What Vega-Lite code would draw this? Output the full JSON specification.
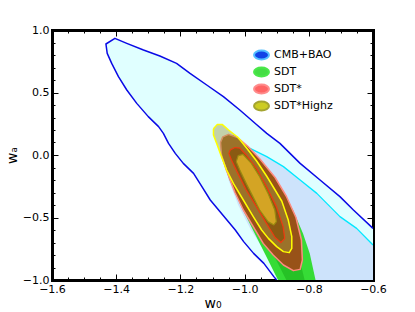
{
  "$schema": "https://vega.github.io/schema/vega-lite/v6.json",
  "width": 321,
  "height": 250,
  "autosize": {"type": "none"},
  "padding": {"left": 52, "top": 30, "right": 42, "bottom": 32},
  "background": "white",
  "config": {
    "view": {"stroke": null},
    "font": "DejaVu Sans",
    "axis": {"grid": false, "zindex": 1, "tickColor": "black", "tickWidth": 1, "labelColor": "black", "titleColor": "black", "labelFont": "DejaVu Sans", "titleFont": "DejaVu Sans", "titleFontWeight": "normal"},
    "legend": {
      "orient": "none", "legendX": 202, "legendY": 17.5,
      "symbolType": "M-1.15,0A1.15,0.7 0 1,1 1.15,0A1.15,0.7 0 1,1 -1.15,0Z",
      "symbolSize": 169, "symbolStrokeWidth": 2, "symbolOpacity": 1,
      "labelFontSize": 11, "labelFont": "DejaVu Sans", "labelColor": "black",
      "labelOffset": 5, "rowPadding": -2.5, "padding": 0
    }
  },
  "datasets": {
    "cmb2": [
      {"k":0,"w0":-0.900,"wa":-1.0},{"k":1,"w0":-0.909,"wa":-0.973},{"k":2,"w0":-0.940,"wa":-0.867},{"k":3,"w0":-0.972,"wa":-0.787},
      {"k":4,"w0":-1.003,"wa":-0.693},{"k":5,"w0":-1.029,"wa":-0.6},{"k":6,"w0":-1.055,"wa":-0.52},{"k":7,"w0":-1.081,"wa":-0.44},
      {"k":8,"w0":-1.107,"wa":-0.36},{"k":9,"w0":-1.133,"wa":-0.253},{"k":10,"w0":-1.159,"wa":-0.147},{"k":11,"w0":-1.191,"wa":-0.067},
      {"k":12,"w0":-1.216,"wa":0.013},{"k":13,"w0":-1.237,"wa":0.093},{"k":14,"w0":-1.253,"wa":0.173},{"k":15,"w0":-1.268,"wa":0.227},
      {"k":16,"w0":-1.300,"wa":0.307},{"k":17,"w0":-1.336,"wa":0.413},{"k":18,"w0":-1.367,"wa":0.52},{"k":19,"w0":-1.393,"wa":0.627},
      {"k":20,"w0":-1.414,"wa":0.733},{"k":21,"w0":-1.428,"wa":0.813},{"k":22,"w0":-1.432,"wa":0.888},{"k":23,"w0":-1.404,"wa":0.933},
      {"k":24,"w0":-1.367,"wa":0.893},{"k":25,"w0":-1.315,"wa":0.84},{"k":26,"w0":-1.264,"wa":0.792},{"k":27,"w0":-1.212,"wa":0.733},
      {"k":28,"w0":-1.170,"wa":0.653},{"k":29,"w0":-1.118,"wa":0.56},{"k":30,"w0":-1.066,"wa":0.467},{"k":31,"w0":-1.015,"wa":0.36},
      {"k":32,"w0":-0.963,"wa":0.244},{"k":33,"w0":-0.931,"wa":0.173},{"k":34,"w0":-0.890,"wa":0.093},{"k":35,"w0":-0.827,"wa":-0.067},
      {"k":36,"w0":-0.765,"wa":-0.2},{"k":37,"w0":-0.703,"wa":-0.333},{"k":38,"w0":-0.661,"wa":-0.44},{"k":39,"w0":-0.600,"wa":-0.587},
      {"k":40,"w0":-0.600,"wa":-1.0}
    ],
    "cmb1": [
      {"k":0,"w0":-1.060,"wa":-0.06},{"k":1,"w0":-1.030,"wa":0.02},{"k":2,"w0":-0.983,"wa":0.053},{"k":3,"w0":-0.931,"wa":-0.013},
      {"k":4,"w0":-0.879,"wa":-0.093},{"k":5,"w0":-0.827,"wa":-0.2},{"k":6,"w0":-0.775,"wa":-0.307},{"k":7,"w0":-0.744,"wa":-0.387},
      {"k":8,"w0":-0.703,"wa":-0.493},{"k":9,"w0":-0.651,"wa":-0.587},{"k":10,"w0":-0.600,"wa":-0.72},{"k":11,"w0":-0.600,"wa":-1.0},
      {"k":12,"w0":-0.870,"wa":-1.0},{"k":13,"w0":-0.930,"wa":-0.8},{"k":14,"w0":-0.980,"wa":-0.6},{"k":15,"w0":-1.020,"wa":-0.4},
      {"k":16,"w0":-1.050,"wa":-0.2}
    ],
    "sdt2": [
      {"k":0,"w0":-1.067,"wa":0.12},{"k":1,"w0":-1.036,"wa":0.16},{"k":2,"w0":-0.995,"wa":0.08},{"k":3,"w0":-0.943,"wa":-0.067},
      {"k":4,"w0":-0.891,"wa":-0.253},{"k":5,"w0":-0.849,"wa":-0.44},{"k":6,"w0":-0.818,"wa":-0.627},{"k":7,"w0":-0.797,"wa":-0.787},
      {"k":8,"w0":-0.779,"wa":-1.0},{"k":9,"w0":-0.896,"wa":-1.0},{"k":10,"w0":-0.932,"wa":-0.813},{"k":11,"w0":-0.974,"wa":-0.6},
      {"k":12,"w0":-1.015,"wa":-0.387},{"k":13,"w0":-1.047,"wa":-0.2},{"k":14,"w0":-1.069,"wa":-0.04}
    ],
    "sdt1": [
      {"k":0,"w0":-1.036,"wa":0.013},{"k":1,"w0":-0.974,"wa":-0.12},{"k":2,"w0":-0.912,"wa":-0.36},{"k":3,"w0":-0.860,"wa":-0.627},
      {"k":4,"w0":-0.828,"wa":-0.84},{"k":5,"w0":-0.813,"wa":-1.0},{"k":6,"w0":-0.870,"wa":-1.0},{"k":7,"w0":-0.912,"wa":-0.787},
      {"k":8,"w0":-0.963,"wa":-0.547},{"k":9,"w0":-1.005,"wa":-0.333},{"k":10,"w0":-1.036,"wa":-0.147}
    ],
    "red2": [
      {"k":0,"w0":-1.075,"wa":0.10},{"k":1,"w0":-1.068,"wa":0.145},{"k":2,"w0":-1.050,"wa":0.165},{"k":3,"w0":-1.022,"wa":0.14},
      {"k":4,"w0":-0.990,"wa":0.07},{"k":5,"w0":-0.953,"wa":-0.03},{"k":6,"w0":-0.905,"wa":-0.18},{"k":7,"w0":-0.870,"wa":-0.33},
      {"k":8,"w0":-0.840,"wa":-0.50},{"k":9,"w0":-0.823,"wa":-0.68},{"k":10,"w0":-0.820,"wa":-0.84},{"k":11,"w0":-0.827,"wa":-0.915},
      {"k":12,"w0":-0.848,"wa":-0.925},{"k":13,"w0":-0.879,"wa":-0.88},{"k":14,"w0":-0.911,"wa":-0.80},{"k":15,"w0":-0.942,"wa":-0.707},
      {"k":16,"w0":-0.973,"wa":-0.573},{"k":17,"w0":-1.004,"wa":-0.44},{"k":18,"w0":-1.030,"wa":-0.30},{"k":19,"w0":-1.057,"wa":-0.12},
      {"k":20,"w0":-1.072,"wa":0.0},{"k":21,"w0":-1.075,"wa":0.10}
    ],
    "hz2": [
      {"k":0,"w0":-1.097,"wa":0.21},{"k":1,"w0":-1.085,"wa":0.245},{"k":2,"w0":-1.070,"wa":0.245},{"k":3,"w0":-1.050,"wa":0.20},
      {"k":4,"w0":-1.020,"wa":0.14},{"k":5,"w0":-0.992,"wa":0.05},{"k":6,"w0":-0.962,"wa":-0.05},{"k":7,"w0":-0.931,"wa":-0.17},
      {"k":8,"w0":-0.905,"wa":-0.28},{"k":9,"w0":-0.884,"wa":-0.37},{"k":10,"w0":-0.864,"wa":-0.52},{"k":11,"w0":-0.853,"wa":-0.653},
      {"k":12,"w0":-0.853,"wa":-0.747},{"k":13,"w0":-0.861,"wa":-0.781},{"k":14,"w0":-0.879,"wa":-0.773},{"k":15,"w0":-0.900,"wa":-0.733},
      {"k":16,"w0":-0.926,"wa":-0.667},{"k":17,"w0":-0.947,"wa":-0.60},{"k":18,"w0":-0.973,"wa":-0.493},{"k":19,"w0":-1.004,"wa":-0.36},
      {"k":20,"w0":-1.035,"wa":-0.227},{"k":21,"w0":-1.056,"wa":-0.12},{"k":22,"w0":-1.072,"wa":-0.013},{"k":23,"w0":-1.087,"wa":0.093},
      {"k":24,"w0":-1.097,"wa":0.16},{"k":25,"w0":-1.097,"wa":0.21}
    ],
    "red1": [
      {"k":0,"w0":-1.045,"wa":0.04},{"k":1,"w0":-1.030,"wa":0.06},{"k":2,"w0":-1.015,"wa":0.055},{"k":3,"w0":-0.995,"wa":0.0},
      {"k":4,"w0":-0.963,"wa":-0.107},{"k":5,"w0":-0.932,"wa":-0.253},{"k":6,"w0":-0.901,"wa":-0.413},{"k":7,"w0":-0.880,"wa":-0.573},
      {"k":8,"w0":-0.875,"wa":-0.667},{"k":9,"w0":-0.887,"wa":-0.70},{"k":10,"w0":-0.905,"wa":-0.66},{"k":11,"w0":-0.932,"wa":-0.547},
      {"k":12,"w0":-0.963,"wa":-0.413},{"k":13,"w0":-0.995,"wa":-0.28},{"k":14,"w0":-1.021,"wa":-0.147},{"k":15,"w0":-1.041,"wa":-0.04},
      {"k":16,"w0":-1.049,"wa":0.013},{"k":17,"w0":-1.045,"wa":0.04}
    ],
    "hz1": [
      {"k":0,"w0":-1.026,"wa":-0.053},{"k":1,"w0":-1.020,"wa":-0.005},{"k":2,"w0":-1.005,"wa":0.005},{"k":3,"w0":-0.979,"wa":-0.067},
      {"k":4,"w0":-0.953,"wa":-0.173},{"k":5,"w0":-0.927,"wa":-0.307},{"k":6,"w0":-0.906,"wa":-0.44},{"k":7,"w0":-0.901,"wa":-0.533},
      {"k":8,"w0":-0.909,"wa":-0.56},{"k":9,"w0":-0.927,"wa":-0.533},{"k":10,"w0":-0.953,"wa":-0.44},{"k":11,"w0":-0.974,"wa":-0.333},
      {"k":12,"w0":-0.995,"wa":-0.227},{"k":13,"w0":-1.015,"wa":-0.12},{"k":14,"w0":-1.026,"wa":-0.053}
    ],
    "legend": [
      {"series":"CMB+BAO","w0":-1.0,"wa":0.0},{"series":"SDT","w0":-1.0,"wa":0.0},
      {"series":"SDT*","w0":-1.0,"wa":0.0},{"series":"SDT*Highz","w0":-1.0,"wa":0.0}
    ]
  },
  "resolve": {"axis": {"x": "independent", "y": "independent"}},
  "layer": [
    {
      "data": {"name": "cmb2"},
      "mark": {"type": "line", "fill": "#e0ffff", "strokeWidth": 0, "clip": true},
      "encoding": {
        "x": {"field": "w0", "type": "quantitative", "scale": {"domain": [-1.6, -0.6], "nice": false, "zero": false},
              "axis": {"orient": "bottom", "values": [-1.6, -1.4, -1.2, -1.0, -0.8, -0.6], "format": ".1f", "tickSize": -6, "labelPadding": 9, "labelFontSize": 11, "labelFlush": false, "labelOverlap": false, "domain": true, "domainWidth": 3, "domainColor": "black", "domainCap": "square", "title": "w₀", "titleFontSize": 14, "titleY": 23, "titleBaseline": "middle"}},
        "y": {"field": "wa", "type": "quantitative", "scale": {"domain": [-1.0, 1.0], "nice": false, "zero": false},
              "axis": {"orient": "left", "values": [-1.0, -0.5, 0.0, 0.5, 1.0], "format": ".1f", "tickSize": -6, "labelPadding": 9, "labelFontSize": 11, "labelFlush": false, "labelOverlap": false, "domain": true, "domainWidth": 3, "domainColor": "black", "domainCap": "square", "title": "wₐ", "titleFontSize": 14, "titleX": -40, "titleY": 125, "titleBaseline": "middle"}},
        "order": {"field": "k", "type": "quantitative"}
      }
    },
    {
      "data": {"name": "cmb2"},
      "transform": [{"filter": "datum.k < 40"}],
      "mark": {"type": "line", "stroke": "#0a0ae6", "strokeWidth": 1.5, "strokeJoin": "round", "clip": true},
      "encoding": {
        "x": {"field": "w0", "type": "quantitative", "scale": {"domain": [-1.6, -0.6], "nice": false, "zero": false},
              "axis": {"orient": "top", "values": [-1.6, -1.4, -1.2, -1.0, -0.8, -0.6], "tickSize": -6, "labels": false, "domain": true, "domainWidth": 3, "domainColor": "black", "domainCap": "square", "title": null}},
        "y": {"field": "wa", "type": "quantitative", "scale": {"domain": [-1.0, 1.0], "nice": false, "zero": false},
              "axis": {"orient": "right", "values": [-1.0, -0.5, 0.0, 0.5, 1.0], "tickSize": -6, "labels": false, "domain": true, "domainWidth": 3, "domainColor": "black", "domainCap": "square", "title": null}},
        "order": {"field": "k", "type": "quantitative"}
      }
    },
    {
      "data": {"name": "cmb1"},
      "mark": {"type": "line", "fill": "#cde3fb", "strokeWidth": 0, "clip": true},
      "encoding": {
        "x": {"field": "w0", "type": "quantitative", "scale": {"domain": [-1.6, -0.6], "nice": false, "zero": false},
              "axis": {"orient": "bottom", "values": [-1.6, -1.55, -1.5, -1.45, -1.4, -1.35, -1.3, -1.25, -1.2, -1.15, -1.1, -1.05, -1.0, -0.95, -0.9, -0.85, -0.8, -0.75, -0.7, -0.65, -0.6], "tickSize": -3, "labels": false, "domain": false, "title": null}},
        "y": {"field": "wa", "type": "quantitative", "scale": {"domain": [-1.0, 1.0], "nice": false, "zero": false},
              "axis": {"orient": "left", "values": [-1.0, -0.9, -0.8, -0.7, -0.6, -0.5, -0.4, -0.3, -0.2, -0.1, 0.0, 0.1, 0.2, 0.3, 0.4, 0.5, 0.6, 0.7, 0.8, 0.9, 1.0], "tickSize": -3, "labels": false, "domain": false, "title": null}},
        "order": {"field": "k", "type": "quantitative"}
      }
    },
    {
      "data": {"name": "cmb1"},
      "transform": [{"filter": "datum.k >= 1 && datum.k <= 10"}],
      "mark": {"type": "line", "stroke": "#00e8ff", "strokeWidth": 1.3, "strokeJoin": "round", "clip": true},
      "encoding": {
        "x": {"field": "w0", "type": "quantitative", "scale": {"domain": [-1.6, -0.6], "nice": false, "zero": false},
              "axis": {"orient": "top", "values": [-1.6, -1.55, -1.5, -1.45, -1.4, -1.35, -1.3, -1.25, -1.2, -1.15, -1.1, -1.05, -1.0, -0.95, -0.9, -0.85, -0.8, -0.75, -0.7, -0.65, -0.6], "tickSize": -3, "labels": false, "domain": false, "title": null}},
        "y": {"field": "wa", "type": "quantitative", "scale": {"domain": [-1.0, 1.0], "nice": false, "zero": false},
              "axis": {"orient": "right", "values": [-1.0, -0.9, -0.8, -0.7, -0.6, -0.5, -0.4, -0.3, -0.2, -0.1, 0.0, 0.1, 0.2, 0.3, 0.4, 0.5, 0.6, 0.7, 0.8, 0.9, 1.0], "tickSize": -3, "labels": false, "domain": false, "title": null}},
        "order": {"field": "k", "type": "quantitative"}
      }
    },
    {
      "data": {"name": "sdt2"},
      "mark": {"type": "line", "fill": "#36dc36", "strokeWidth": 0, "clip": true},
      "encoding": {
        "x": {"field": "w0", "type": "quantitative", "axis": null},
        "y": {"field": "wa", "type": "quantitative", "axis": null},
        "order": {"field": "k", "type": "quantitative"}
      }
    },
    {
      "data": {"name": "sdt1"},
      "mark": {"type": "line", "fill": "#26c226", "strokeWidth": 0, "clip": true},
      "encoding": {
        "x": {"field": "w0", "type": "quantitative", "axis": null},
        "y": {"field": "wa", "type": "quantitative", "axis": null},
        "order": {"field": "k", "type": "quantitative"}
      }
    },
    {
      "data": {"name": "red2"},
      "mark": {"type": "line", "fill": "#985218", "stroke": "#ff8a80", "strokeWidth": 1.5, "strokeJoin": "round", "clip": true},
      "encoding": {
        "x": {"field": "w0", "type": "quantitative", "axis": null},
        "y": {"field": "wa", "type": "quantitative", "axis": null},
        "order": {"field": "k", "type": "quantitative"}
      }
    },
    {
      "data": {"name": "hz2"},
      "mark": {"type": "line", "fill": "#a09a40", "fillOpacity": 0.45, "stroke": "#ffff00", "strokeWidth": 1.5, "strokeJoin": "round", "clip": true},
      "encoding": {
        "x": {"field": "w0", "type": "quantitative", "axis": null},
        "y": {"field": "wa", "type": "quantitative", "axis": null},
        "order": {"field": "k", "type": "quantitative"}
      }
    },
    {
      "data": {"name": "red1"},
      "mark": {"type": "line", "fill": "#8a5a12", "stroke": "#ee3a10", "strokeWidth": 1.2, "strokeJoin": "round", "clip": true},
      "encoding": {
        "x": {"field": "w0", "type": "quantitative", "axis": null},
        "y": {"field": "wa", "type": "quantitative", "axis": null},
        "order": {"field": "k", "type": "quantitative"}
      }
    },
    {
      "data": {"name": "hz1"},
      "mark": {"type": "line", "fill": "#d4a424", "stroke": "#9a8a10", "strokeWidth": 1.2, "strokeJoin": "round", "clip": true},
      "encoding": {
        "x": {"field": "w0", "type": "quantitative", "axis": null},
        "y": {"field": "wa", "type": "quantitative", "axis": null},
        "order": {"field": "k", "type": "quantitative"}
      }
    },
    {
      "data": {"name": "legend"},
      "mark": {"type": "point", "filled": true, "opacity": 0},
      "encoding": {
        "x": {"field": "w0", "type": "quantitative", "axis": null},
        "y": {"field": "wa", "type": "quantitative", "axis": null},
        "fill": {"field": "series", "type": "nominal", "scale": {"domain": ["CMB+BAO", "SDT", "SDT*", "SDT*Highz"], "range": ["#1244e6", "#44dd44", "#ff6464", "#cccc22"]}, "legend": {"title": null}},
        "stroke": {"field": "series", "type": "nominal", "scale": {"domain": ["CMB+BAO", "SDT", "SDT*", "SDT*Highz"], "range": ["#55c0ff", "#4ae84a", "#ff8c8c", "#a4a430"]}, "legend": {"title": null}}
      }
    }
  ]
}
